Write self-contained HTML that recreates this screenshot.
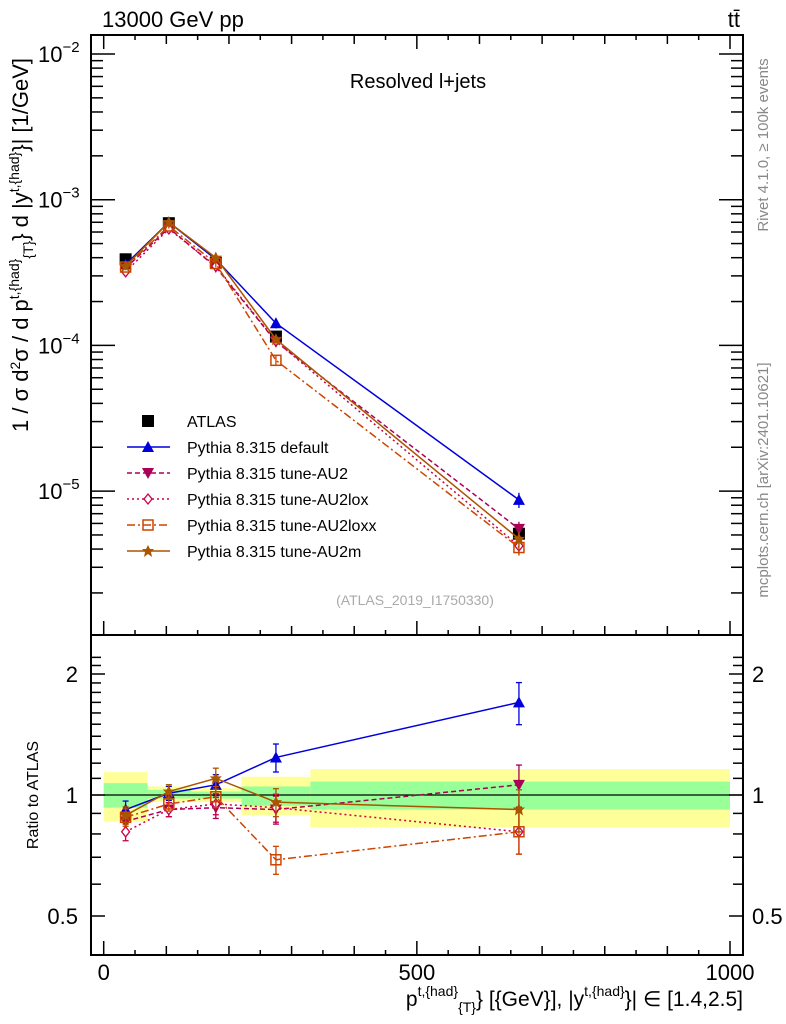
<!DOCTYPE html>
<html><head><meta charset="utf-8"><style>
body{margin:0;background:#fff;}
svg{display:block;font-family:"Liberation Sans",Arial,sans-serif;}
</style></head><body>
<svg id="c" width="786" height="1024" viewBox="0 0 786 1024"></svg>
<script>
const xs=[35,104,179,275,663];
const bins=[0,70,140,220,330,1000];
const yellowHi=[1.14,1.05,1.04,1.11,1.16];
const yellowLo=[0.86,0.96,0.96,0.89,0.83];
const greenHi=[1.07,1.03,1.02,1.05,1.08];
const greenLo=[0.93,0.98,0.98,0.94,0.92];
const atlas=[3.9e-4,6.9e-4,3.7e-4,1.15e-4,5.1e-6];
const vDefault=[3.6e-4,7.0e-4,3.9e-4,1.42e-4,8.7e-6];
const vAU2=[3.4e-4,6.4e-4,3.45e-4,1.06e-4,5.5e-6];
const vAU2lox=[3.2e-4,6.3e-4,3.5e-4,1.07e-4,4.2e-6];
const vAU2loxx=[3.45e-4,6.6e-4,3.65e-4,0.79e-4,4.1e-6];
const vAU2m=[3.5e-4,7.0e-4,4.0e-4,1.1e-4,4.7e-6];
const rDefault=[0.92,1.01,1.06,1.24,1.70];
const rAU2=[0.86,0.92,0.93,0.92,1.06];
const rAU2lox=[0.81,0.92,0.95,0.93,0.81];
const rAU2loxx=[0.88,0.95,0.99,0.69,0.81];
const rAU2m=[0.89,1.02,1.10,0.96,0.92];
const relErr=[0.05,0.04,0.06,0.08,0.12];
const xTicks=[0,500,1000];

const NS="http://www.w3.org/2000/svg";
const svg=document.getElementById('c');
const L=91,R=743,T=35,M=635,B=955;
const X=v=>103.7+v*0.6263;
const YU=v=>54+(-2-Math.log10(v))*145.7;
const YR=v=>795-121*Math.log2(v);
function el(tag,at,parent){const e=document.createElementNS(NS,tag);for(const k in at)e.setAttribute(k,at[k]);(parent||svg).appendChild(e);return e;}
function txt(s,at){const e=el('text',at);e.textContent=s;return e;}

for(let i=0;i<5;i++){
 const y=el('rect',{x:X(bins[i]),y:YR(yellowHi[i]),width:X(bins[i+1])-X(bins[i]),height:YR(yellowLo[i])-YR(yellowHi[i]),fill:'#ffff99'});
 
 
 const g=el('rect',{x:X(bins[i]),y:YR(greenHi[i]),width:X(bins[i+1])-X(bins[i]),height:YR(greenLo[i])-YR(greenHi[i]),fill:'#99ff99'});
 
 
}
el('line',{x1:L,x2:R,y1:YR(1),y2:YR(1),stroke:'#000','stroke-width':1.2});

el('rect',{x:L,y:T,width:R-L,height:M-T,fill:'none',stroke:'#000','stroke-width':2});
el('rect',{x:L,y:M,width:R-L,height:B-M,fill:'none',stroke:'#000','stroke-width':2});

for(let v=0;v<=1000;v+=50){
 const big=v%500===0, mid=v%100===0;
 const len=big?14:(mid?9:5);
 [T,M,B].forEach((y,k)=>{
  if(k===0){el('line',{x1:X(v),x2:X(v),y1:T,y2:T+len,stroke:'#000','stroke-width':1.5});}
  else{el('line',{x1:X(v),x2:X(v),y1:y,y2:y-len,stroke:'#000','stroke-width':1.5});}
 });
}
xTicks.forEach(v=>{const t=txt(String(v),{x:X(v),y:980,'font-size':22,'text-anchor':'middle'});});

for(let d=-6;d<=-2;d++){
 for(let m=1;m<10;m++){
  const v=m*Math.pow(10,d); const y=YU(v);
  if(y<T||y>M)continue;
  const len=m===1?24:12;
  el('line',{x1:L,x2:L+len,y1:y,y2:y,stroke:'#000','stroke-width':1.5});
  el('line',{x1:R,x2:R-len,y1:y,y2:y,stroke:'#000','stroke-width':1.5});
 }
}
[-2,-3,-4,-5].forEach(d=>{
 const t=el('text',{x:38,y:YU(Math.pow(10,d))+8,'font-size':22});
 
 
 t.innerHTML='10<tspan dy="-10" font-size="15">−'+(-d)+'</tspan>';
});
for(let v=0.5;v<=2.3;v+=0.1){
 const y=YR(v); if(y<M||y>B)continue;
 const major=Math.abs(v-0.5)<1e-6||Math.abs(v-1)<1e-6||Math.abs(v-2)<1e-6;
 const len=major?14:10;
 el('line',{x1:L,x2:L+len,y1:y,y2:y,stroke:'#000','stroke-width':1.5});
 el('line',{x1:R,x2:R-len,y1:y,y2:y,stroke:'#000','stroke-width':1.5});
}
[[2,'2'],[1,'1'],[0.5,'0.5']].forEach(([v,s])=>{
 txt(s,{x:78,y:YR(v)+8,'font-size':22,'text-anchor':'end'});
 txt(s,{x:752,y:YR(v)+8,'font-size':22});
});

const series=[
 {name:'default',u:vDefault,r:rDefault,c:'#0000dd',dash:'',m:'tri'},
 {name:'au2',u:vAU2,r:rAU2,c:'#aa0055',dash:'5,3',m:'tridown'},
 {name:'au2lox',u:vAU2lox,r:rAU2lox,c:'#cc0044',dash:'2,3',m:'diamond'},
 {name:'au2loxx',u:vAU2loxx,r:rAU2loxx,c:'#cc4400',dash:'8,3,2,3',m:'square'},
 {name:'au2m',u:vAU2m,r:rAU2m,c:'#aa5500',dash:'',m:'star'}
];
function marker(type,x,y,c){
 let e;
 if(type==='tri')e=el('polygon',{points:`${x},${y-6} ${x-6},${y+5} ${x+6},${y+5}`,fill:c});
 else if(type==='tridown')e=el('polygon',{points:`${x},${y+6} ${x-6},${y-5} ${x+6},${y-5}`,fill:c});
 else if(type==='diamond')e=el('polygon',{points:`${x},${y-5} ${x-4},${y} ${x},${y+5} ${x+4},${y}`,fill:'#fff',stroke:c,'stroke-width':1.3});
 else if(type==='square')e=el('rect',{x:x-5,y:y-5,width:10,height:10,fill:'none',stroke:c,'stroke-width':1.5});
 else if(type==='star')e=el('polygon',{points:`${x},${y-6} ${x+2},${y-2} ${x+6},${y-2} ${x+3},${y+1} ${x+4},${y+6} ${x},${y+3} ${x-4},${y+6} ${x-3},${y+1} ${x-6},${y-2} ${x-2},${y-2}`,fill:c});
 else e=el('rect',{x:x-6,y:y-6,width:12,height:12,fill:c});
 return e;
}
atlas.forEach((v,i)=>{const m=marker('sq',X(xs[i]),YU(v),'#000');});
series.forEach(s=>{
 const pu=s.u.map((v,i)=>X(xs[i])+','+YU(v)).join(' ');
 const lu=el('polyline',{points:pu,fill:'none',stroke:s.c,'stroke-width':1.5,'stroke-dasharray':s.dash});
 
 
 const pr=s.r.map((v,i)=>X(xs[i])+','+YR(v)).join(' ');
 const lr=el('polyline',{points:pr,fill:'none',stroke:s.c,'stroke-width':1.5,'stroke-dasharray':s.dash});
 
 
 s.u.forEach((v,i)=>{
  const x=X(xs[i]);
  el('line',{x1:x,x2:x,y1:YU(v*(1+relErr[i])),y2:YU(v*(1-relErr[i])),stroke:s.c,'stroke-width':1.3});
  const m=marker(s.m,x,YU(v),s.c);
  
  
 });
 s.r.forEach((v,i)=>{
  const x=X(xs[i]);
  const y1=YR(v*(1+relErr[i])),y2=YR(v*(1-relErr[i]));
  el('line',{x1:x,x2:x,y1:y1,y2:y2,stroke:s.c,'stroke-width':1.3});
  el('line',{x1:x-3,x2:x+3,y1:y1,y2:y1,stroke:s.c,'stroke-width':1.3});
  el('line',{x1:x-3,x2:x+3,y1:y2,y2:y2,stroke:s.c,'stroke-width':1.3});
  const m=marker(s.m,x,YR(v),s.c);
  
  
 });
});

const leg=[['ATLAS','sq','#000',''],['Pythia 8.315 default','tri','#0000dd',''],['Pythia 8.315 tune-AU2','tridown','#aa0055','5,3'],['Pythia 8.315 tune-AU2lox','diamond','#cc0044','2,3'],['Pythia 8.315 tune-AU2loxx','square','#cc4400','8,3,2,3'],['Pythia 8.315 tune-AU2m','star','#aa5500','']];
leg.forEach((l,i)=>{
 const y=421+i*26;
 if(i>0)el('line',{x1:127,x2:170,y1:y,y2:y,stroke:l[2],'stroke-width':1.5,'stroke-dasharray':l[3]});
 marker(l[1],148,y,l[2]);
 const t=txt(l[0],{x:187,y:y+6,'font-size':16});
 
 
});

txt('13000 GeV pp',{x:102,y:27,'font-size':22});
txt('tt̄',{x:740,y:27,'font-size':22,'text-anchor':'end'});
txt('Resolved l+jets',{x:418,y:88,'font-size':20,'text-anchor':'middle'});
txt('(ATLAS_2019_I1750330)',{x:415,y:605,'font-size':14,fill:'#aaa','text-anchor':'middle'});
txt('Rivet 4.1.0, ≥ 100k events',{x:0,y:0,'font-size':15,fill:'#888','text-anchor':'middle',transform:'translate(768,145) rotate(-90)'});
txt('mcplots.cern.ch [arXiv:2401.10621]',{x:0,y:0,'font-size':15,fill:'#888','text-anchor':'middle',transform:'translate(768,480) rotate(-90)'});
const yt=el('text',{x:0,y:0,'font-size':22,'text-anchor':'middle',transform:'translate(28,245) rotate(-90)'});


yt.innerHTML='1 / σ d<tspan dy="-8" font-size="14">2</tspan><tspan dy="8">σ / d p</tspan><tspan dy="-9" font-size="14">t,{had}</tspan><tspan dy="14" font-size="14">{T}</tspan><tspan dy="-5">} d |y</tspan><tspan dy="-9" font-size="14">t,{had}</tspan><tspan dy="9">}| [1/GeV]</tspan>';
txt('Ratio to ATLAS',{x:0,y:0,'font-size':16,'text-anchor':'middle',transform:'translate(38,795) rotate(-90)'});
const xt=el('text',{x:743,y:1006,'font-size':21,'text-anchor':'end'});


xt.innerHTML='p<tspan dy="-10" font-size="14">t,{had}</tspan><tspan dy="16" font-size="14">{T}</tspan><tspan dy="-6">} [{GeV}], |y</tspan><tspan dy="-10" font-size="14">t,{had}</tspan><tspan dy="10">}| ∈ [1.4,2.5]</tspan>';
</script>
</body></html>
